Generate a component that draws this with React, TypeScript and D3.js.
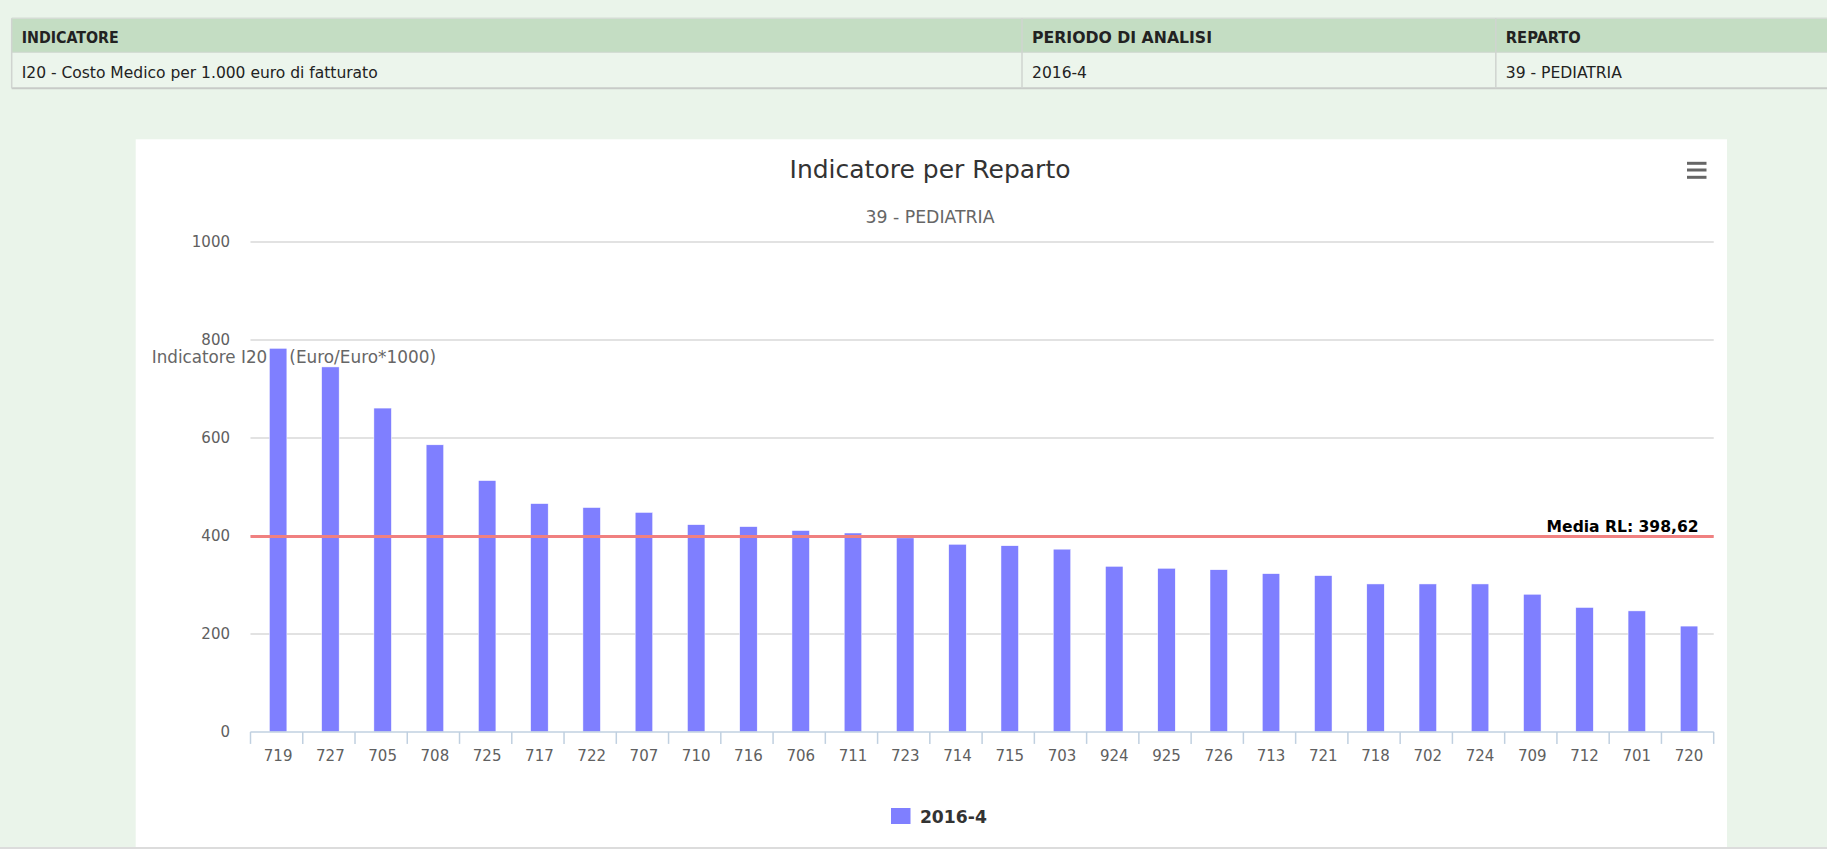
import React from "react";
import * as d3 from "d3";

const categories = ["719","727","705","708","725","717","722","707","710","716","706","711","723","714","715","703","924","925","726","713","721","718","702","724","709","712","701","720"];
const values2016_4 = [783,745,661,586,513,466,458,448,423,419,411,406,396,383,380,373,338,334,331,323,319,302,302,302,281,254,247,216];
const yTicks = [0,200,400,600,800,1000];
const mediaRL = 398.62;
const mediaLabel = "Media RL: 398,62";
const seriesName = "2016-4";
const chartTitle = "Indicatore per Reparto";
const chartSubtitle = "39 - PEDIATRIA";
const yAxisTitleParts = ["Indicatore I20", "(Euro/Euro*1000)"];
const tableHeaders = ["INDICATORE","PERIODO DI ANALISI","REPARTO"];
const tableRow = ["I20 - Costo Medico per 1.000 euro di fatturato","2016-4","39 - PEDIATRIA"];

export default function App() {
  const W = 1827, H = 849;
  const x = d3.scaleBand<string>().domain(categories).range([250.5, 1713.7]).padding(0);
  const y = d3.scaleLinear().domain([0, 1000]).range([731.9, 242]);
  const bw = x.bandwidth();
  const barW = bw * 0.335;
  const font = "'DejaVu Sans', Verdana, sans-serif";
  const cond = "'DejaVu Sans Condensed', 'DejaVu Sans', sans-serif";

  const colX = [11.7, 1022, 1495.8];
  const colTextLen = [[97, 356], [180, 55], [75, 116]];

  return (
    <svg width={W} height={H} style={{ position: "absolute", left: 0, top: 0, display: "block" }}>
      <rect x={0} y={0} width={W} height={H} fill="#eaf4ea" />
      {/* table */}
      <rect x={colX[0]} y={18.3} width={W - colX[0]} height={34} fill="#c4ddc3" />
      <rect x={colX[0]} y={52.3} width={W - colX[0]} height={36} fill="#ecf5ec" />
      <line x1={colX[0]} x2={W} y1={18.3} y2={18.3} stroke="#d4dcd4" strokeWidth={1.5} />
      <line x1={colX[0]} x2={W} y1={52.3} y2={52.3} stroke="#d0d8d0" strokeWidth={1} />
      <line x1={colX[0]} x2={W} y1={88.3} y2={88.3} stroke="#c8cbc8" strokeWidth={2} />
      {colX.map((cx, i) => (
        <line key={"cl" + i} x1={cx} x2={cx} y1={18.3} y2={88.3} stroke="#d0d4d0" strokeWidth={1.5} />
      ))}
      {tableHeaders.map((t, i) => (
        <text key={"th" + i} x={colX[i] + 10} y={42.7} fontFamily={cond} fontWeight="bold" fontSize={16}
          fill="#222" textLength={colTextLen[i][0]} lengthAdjust="spacingAndGlyphs">{t}</text>
      ))}
      {tableRow.map((t, i) => (
        <text key={"td" + i} x={colX[i] + 10} y={78} fontFamily={cond} fontSize={16}
          fill="#222" textLength={colTextLen[i][1]} lengthAdjust="spacingAndGlyphs">{t}</text>
      ))}

      {/* chart box */}
      <rect x={135.7} y={139.3} width={1727 - 135.7} height={847 - 139.3} fill="#ffffff" />
      <line x1={0} x2={W} y1={848} y2={848} stroke="#dcdcdc" strokeWidth={2} />

      <text x={930} y={177.7} textAnchor="middle" fontFamily={font} fontSize={25} fill="#333"
        textLength={281} lengthAdjust="spacingAndGlyphs">{chartTitle}</text>
      <text x={930} y={223} textAnchor="middle" fontFamily={font} fontSize={17} fill="#666"
        textLength={129} lengthAdjust="spacingAndGlyphs">{chartSubtitle}</text>

      {/* menu icon */}
      {[163.3, 170, 177.3].map((yy, i) => (
        <line key={"m" + i} x1={1687} x2={1706.5} y1={yy} y2={yy} stroke="#666" strokeWidth={3} />
      ))}

      {/* gridlines */}
      {yTicks.filter(t => t > 0).map(t => (
        <line key={"g" + t} x1={250.5} x2={1713.7} y1={y(t)} y2={y(t)} stroke="#d8d8d8" strokeWidth={1.5} />
      ))}
      {yTicks.map(t => (
        <text key={"yl" + t} x={230} y={y(t)} dy="0.36em" textAnchor="end" fontFamily={font} fontSize={15} fill="#606060">{t}</text>
      ))}

      {/* y axis title (drawn unrotated, under bars) */}
      <text y={362.7} fontFamily={font} fontSize={17} fill="#666">
        <tspan x={151.7} textLength={115.6} lengthAdjust="spacingAndGlyphs">{yAxisTitleParts[0]}</tspan>
        <tspan x={289.3} textLength={146.7} lengthAdjust="spacingAndGlyphs">{yAxisTitleParts[1]}</tspan>
      </text>

      {/* bars */}
      {categories.map((c, i) => (
        <rect key={"b" + c} x={(x(c) as number) + (bw - barW) / 2 + 1.5} y={y(values2016_4[i])}
          width={barW} height={y(0) - y(values2016_4[i])} fill="#7f7fff" stroke="#ffffff" strokeWidth={0.5} />
      ))}

      {/* x axis */}
      <line x1={250.5} x2={1713.7} y1={y(0)} y2={y(0)} stroke="#c0d0e0" strokeWidth={1.5} />
      {[...categories.map(c => x(c) as number), 1713.7].map((tx, i) => (
        <line key={"xt" + i} x1={tx} x2={tx} y1={y(0)} y2={y(0) + 12} stroke="#c0d0e0" strokeWidth={1.5} />
      ))}
      {categories.map(c => (
        <text key={"xl" + c} x={(x(c) as number) + bw / 2 + 1.5} y={761} textAnchor="middle" fontFamily={font} fontSize={15} fill="#606060">{c}</text>
      ))}

      {/* media line */}
      <line x1={250.5} x2={1713.7} y1={y(mediaRL)} y2={y(mediaRL)} stroke="#f08080" strokeWidth={3} />
      <text x={1698.6} y={532} textAnchor="end" fontFamily={font} fontWeight="bold" fontSize={16} fill="#000"
        textLength={152} lengthAdjust="spacingAndGlyphs">{mediaLabel}</text>

      {/* legend */}
      <rect x={891} y={808} width={19.5} height={16} fill="#7f7fff" />
      <text x={919.9} y={823} fontFamily={font} fontWeight="bold" fontSize={17} fill="#333"
        textLength={67} lengthAdjust="spacingAndGlyphs">{seriesName}</text>
    </svg>
  );
}
